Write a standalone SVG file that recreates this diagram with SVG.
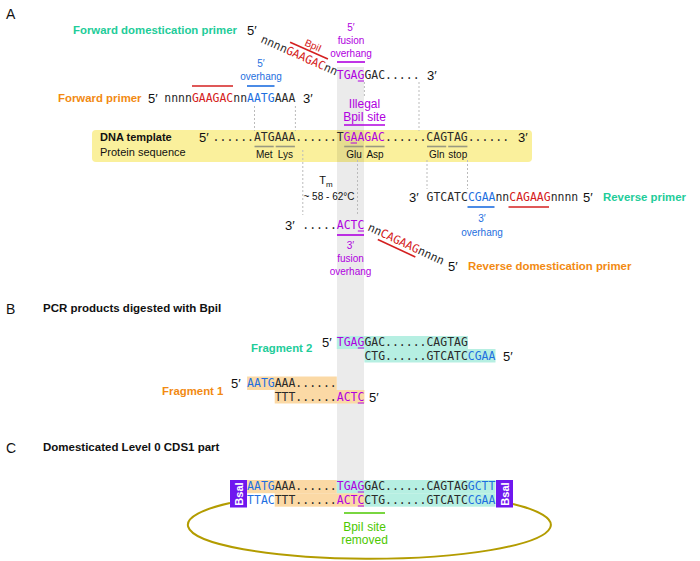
<svg xmlns="http://www.w3.org/2000/svg" width="700" height="561" viewBox="0 0 700 561">
<defs>
<style>
text{font-family:"Liberation Sans",Arial,sans-serif;}
.seq{font-family:"DejaVu Sans Mono","Liberation Mono",monospace;font-size:11.46px;fill:#2a2a2a;}
.end{font-size:13px;fill:#111;}
.panel{font-size:14px;fill:#111;}
.title{font-size:11.5px;font-weight:bold;fill:#111;}
.grn{font-size:11.4px;font-weight:bold;fill:#22cc99;}
.org{font-size:11.4px;font-weight:bold;fill:#f28a12;}
.pur{fill:#b000e0;}
.blu{fill:#1e6fe0;}
.red{fill:#d42020;}
.small{font-size:10px;}
.lab{font-size:12px;}
.dash{stroke:#bbbbbb;stroke-width:1;stroke-dasharray:2,2;fill:none;}
.cod{stroke:#999980;stroke-width:1.6;}
.org-bg{fill:#fbd9a5;}
.teal-bg{fill:#b6efe2;}
.bsa{fill:#6f17ef;}
.bsa-t{font-size:11px;font-weight:bold;fill:#fff;}
</style>
</defs>
<rect width="700" height="561" fill="#fff"/>

<!-- template box and band -->
<g id="template">
<rect x="92" y="130" width="440" height="32" rx="4" fill="#faf09c"/>
</g>
<rect id="band" x="337" y="67" width="27" height="413" fill="#000" opacity="0.08"/>

<!-- panel labels -->
<text class="panel" x="6" y="19">A</text>
<text class="panel" x="6" y="314">B</text>
<text class="panel" x="6" y="453">C</text>
<text class="title" x="43" y="312">PCR products digested with BpiI</text>
<text class="title" x="43" y="451">Domesticated Level 0 CDS1 part</text>

<g id="connectors">
<line class="dash" x1="254.5" y1="106" x2="254.5" y2="131"/>
<line class="dash" x1="295.4" y1="106" x2="295.4" y2="131"/>
<line class="dash" x1="364.4" y1="82" x2="364.4" y2="97"/>
<line class="dash" x1="419" y1="82" x2="419" y2="131"/>
<line class="dash" x1="302.8" y1="150" x2="302.8" y2="215"/>
<line class="dash" x1="357.5" y1="160" x2="357.5" y2="215"/>
<line class="dash" x1="427" y1="160" x2="427" y2="189"/>
<line class="dash" x1="467.5" y1="160" x2="467.5" y2="189"/>
</g>

<!-- Forward domestication primer -->
<g id="fwd-dom-primer">
<text class="grn" x="73" y="34">Forward domestication primer</text>
<text class="end" x="247" y="35">5′</text>
<g transform="translate(260,42) rotate(24)">
<text class="seq" x="0" y="0">nnnn<tspan class="red">GAAGAC</tspan>nn</text>
<line x1="27.6" y1="-12" x2="69" y2="-12" stroke="#d42020" stroke-width="1.6"/>
<text class="red small" x="50" y="-15" text-anchor="middle">BpiI</text>
</g>
<text class="seq" x="336.8" y="79"><tspan class="pur">TGAG</tspan>GAC.....</text>
<line x1="357.8" y1="81" x2="364" y2="81" stroke="#b000e0" stroke-width="1"/>
<text class="end" x="427" y="80">3′</text>
<g class="pur small" text-anchor="middle">
<text x="351" y="31">5′</text>
<text x="351" y="44">fusion</text>
<text x="351" y="57">overhang</text>
</g>
<line x1="337" y1="62" x2="365" y2="62" stroke="#b000e0" stroke-width="1.6"/>
</g>

<!-- Forward primer -->
<g id="fwd-primer">
<text class="org" x="58" y="102">Forward primer</text>
<text class="end" x="148" y="103">5′</text>
<text class="seq" x="164.3" y="102">nnnn<tspan class="red">GAAGAC</tspan>nn<tspan class="blu">AATG</tspan>AAA</text>
<text class="end" x="303" y="103">3′</text>
<line x1="192" y1="86" x2="233" y2="86" stroke="#d42020" stroke-width="1.6"/>
<line x1="247" y1="86" x2="274.5" y2="86" stroke="#1e6fe0" stroke-width="1.6"/>
<g class="blu small" text-anchor="middle">
<text x="261" y="67">5′</text>
<text x="261" y="80">overhang</text>
</g>
</g>

<!-- Illegal site -->
<g id="illegal-site">
<g class="pur lab" text-anchor="middle">
<text x="364.5" y="108">Illegal</text>
<text x="364.5" y="121">BpiI site</text>
</g>
<line x1="344" y1="125" x2="385" y2="125" stroke="#b000e0" stroke-width="1.6"/>
</g>

<!-- DNA template content -->
<g id="dna-template">
<text x="100" y="141" style="font-size:11px;font-weight:bold;fill:#111">DNA template</text>
<text x="100" y="156" style="font-size:11px;fill:#111">Protein sequence</text>
<text class="end" x="199" y="142">5′</text>
<text class="seq" x="212.6" y="141">......ATGAAA......T<tspan class="pur">GAAGAC</tspan>......CAGTAG......</text>
<line x1="350.6" y1="143" x2="357" y2="143" stroke="#b000e0" stroke-width="1"/>
<text class="end" x="518" y="142">3′</text>
<line class="cod" x1="254.5" y1="146.5" x2="273.7" y2="146.5"/>
<line class="cod" x1="275.7" y1="146.5" x2="294.9" y2="146.5"/>
<line class="cod" x1="344.2" y1="146.5" x2="363.4" y2="146.5"/>
<line class="cod" x1="365.4" y1="146.5" x2="384.6" y2="146.5"/>
<line class="cod" x1="427" y1="146.5" x2="446.2" y2="146.5"/>
<line class="cod" x1="448.2" y1="146.5" x2="467.4" y2="146.5"/>
<g class="small" text-anchor="middle" fill="#111">
<text x="264.3" y="157.5">Met</text>
<text x="285.3" y="157.5">Lys</text>
<text x="354" y="157.5">Glu</text>
<text x="375" y="157.5">Asp</text>
<text x="436.8" y="157.5">Gln</text>
<text x="457.8" y="157.5">stop</text>
</g>
</g>

<!-- Tm -->
<g id="tm-label" fill="#111" text-anchor="middle">
<text x="326" y="184" style="font-size:11px">T<tspan style="font-size:8px" dy="3">m</tspan></text>
<text x="329" y="200" style="font-size:10px">~ 58 - 62°C</text>
</g>

<!-- Reverse primer -->
<g id="rev-primer">
<text class="end" x="409" y="202">3′</text>
<text class="seq" x="426.5" y="201">GTCATC<tspan class="blu">CGAA</tspan>nn<tspan class="red">CAGAAG</tspan>nnnn</text>
<text class="end" x="583" y="202">5′</text>
<text class="grn" x="603" y="201">Reverse primer</text>
<line x1="467.5" y1="207" x2="494.5" y2="207" stroke="#1e6fe0" stroke-width="1.6"/>
<line x1="508.5" y1="207" x2="549" y2="207" stroke="#d42020" stroke-width="1.6"/>
<g class="blu small" text-anchor="middle">
<text x="482" y="222">3′</text>
<text x="482" y="236">overhang</text>
</g>
</g>

<!-- Reverse domestication primer -->
<g id="rev-dom-primer">
<text class="end" x="285" y="230">3′</text>
<text class="seq" x="302.3" y="229">.....<tspan class="pur">ACTC</tspan></text>
<line x1="357.8" y1="231" x2="364" y2="231" stroke="#b000e0" stroke-width="1"/>
<line x1="337" y1="235" x2="364" y2="235" stroke="#b000e0" stroke-width="1.6"/>
<g class="pur small" text-anchor="middle">
<text x="350.5" y="249">3′</text>
<text x="350.5" y="262">fusion</text>
<text x="350.5" y="275">overhang</text>
</g>
<g transform="translate(367,230) rotate(25)">
<text class="seq" x="0" y="0">nn<tspan class="red">CAGAAG</tspan>nnnn</text>
<line x1="13.8" y1="4" x2="55.2" y2="4" stroke="#d42020" stroke-width="1.6"/>
</g>
<text class="end" x="448" y="271">5′</text>
<text class="org" x="468" y="270">Reverse domestication primer</text>
</g>

<!-- Fragment 2 -->
<g id="fragment-2">
<text class="grn" x="251" y="352">Fragment 2</text>
<text class="end" x="322" y="347">5′</text>
<rect class="teal-bg" x="336.8" y="336" width="131.1" height="13"/>
<rect class="teal-bg" x="364.4" y="349" width="131.1" height="13.5"/>
<text class="seq" x="336.8" y="346"><tspan class="pur">TGAG</tspan>GAC......CAGTAG</text>
<line x1="357.8" y1="348" x2="364" y2="348" stroke="#b000e0" stroke-width="1"/>
<text class="seq" x="364.4" y="360">CTG......GTCATC<tspan class="blu">CGAA</tspan></text>
<text class="end" x="503" y="361">5′</text>
</g>

<!-- Fragment 1 -->
<g id="fragment-1">
<text class="org" x="162" y="395">Fragment 1</text>
<text class="end" x="231" y="388">5′</text>
<rect class="org-bg" x="247.1" y="376.5" width="89.7" height="13.5"/>
<rect class="org-bg" x="274.7" y="390" width="89.7" height="13.5"/>
<text class="seq" x="247.1" y="387"><tspan class="blu">AATG</tspan>AAA......</text>
<text class="seq" x="274.7" y="401">TTT......<tspan class="pur">ACTC</tspan></text>
<line x1="357.8" y1="403" x2="364" y2="403" stroke="#b000e0" stroke-width="1"/>
<text class="end" x="369" y="402">5′</text>
</g>

<!-- Domesticated part -->
<g id="cds1-part">
<path d="M230,503 A181.5,34 0 1 0 513,504" fill="none" stroke="#b39c00" stroke-width="2"/>
<rect class="org-bg" x="247.1" y="480" width="89.7" height="13.2"/>
<rect class="org-bg" x="274.7" y="493.2" width="89.7" height="13.5"/>
<rect class="teal-bg" x="336.8" y="480" width="158.7" height="13.2"/>
<rect class="teal-bg" x="364.4" y="493.2" width="131.1" height="13.5"/>
<text class="seq" x="247.1" y="490"><tspan class="blu">AATG</tspan>AAA......<tspan class="pur">TGAG</tspan>GAC......CAGTAG<tspan class="blu">GCTT</tspan></text>
<line x1="357.8" y1="492" x2="364" y2="492" stroke="#b000e0" stroke-width="1"/>
<text class="seq" x="247.1" y="504"><tspan class="blu">TTAC</tspan>TTT......<tspan class="pur">ACTC</tspan>CTG......GTCATC<tspan class="blu">CGAA</tspan></text>
<line x1="357.8" y1="506" x2="364" y2="506" stroke="#b000e0" stroke-width="1"/>
<g id="bsai-left">
<rect class="bsa" x="230" y="480" width="17" height="27.5"/>
<text class="bsa-t" transform="translate(242.5,494) rotate(-90)" text-anchor="middle">BsaI</text>
</g>
<g id="bsai-right">
<rect class="bsa" x="496" y="480" width="17" height="27.5"/>
<text class="bsa-t" transform="translate(508.5,494) rotate(-90)" text-anchor="middle">BsaI</text>
</g>
<line x1="344" y1="513" x2="385" y2="513" stroke="#4cc800" stroke-width="1.6"/>
<g class="lab" text-anchor="middle" fill="#4cc800">
<text x="364.5" y="531">BpiI site</text>
<text x="364.5" y="544">removed</text>
</g>
</g>
</svg>
